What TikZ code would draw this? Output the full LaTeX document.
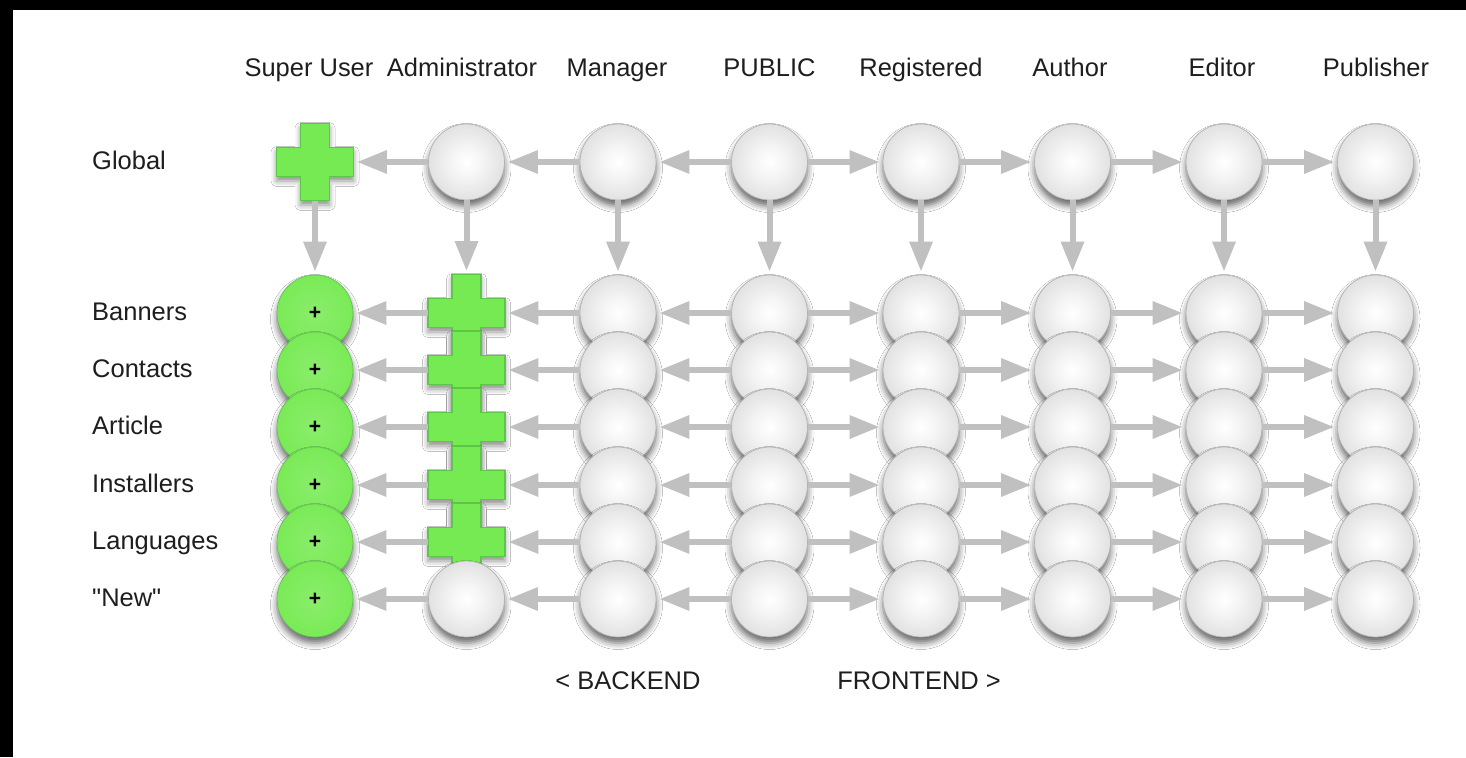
\documentclass[tikz,border=0pt]{standalone}
\usepackage{fontspec}
\setmainfont{Liberation Sans}
\usetikzlibrary{arrows.meta,shadows.blur}
\definecolor{arrowgray}{RGB}{192,192,192}
\definecolor{crossgreen}{RGB}{118,234,82}
\definecolor{crossedge}{RGB}{92,198,72}
\definecolor{ringgreen}{RGB}{124,222,112}
\definecolor{labelgray}{RGB}{30,30,30}
\pgfdeclareradialshading{sphere}{\pgfpoint{0bp}{0bp}}{color(0bp)=(white); color(10bp)=(white!96!black); color(42bp)=(black!20); color(50bp)=(black!32)}
\pgfdeclareradialshading{greenball}{\pgfpoint{0bp}{0bp}}{color(0bp)=(crossgreen!85!white); color(30bp)=(crossgreen); color(36bp)=(crossgreen!95!black); color(39bp)=(ringgreen); color(48bp)=(ringgreen); color(50bp)=(ringgreen!88!black)}
\tikzset{>/.tip={Triangle[length=0.6cm,width=0.44cm]}}

\begin{document}
\begin{tikzpicture}[x=0.02cm,y=-0.02cm,
  lbl/.style={font=\fontsize{14.5}{17}\selectfont, text=labelgray},
  ball/.style={circle, minimum size=1.52cm, inner sep=0pt, shading=sphere, draw=black!30, line width=0.4pt,
    blur shadow={shadow xshift=0pt, shadow yshift=-0.12cm, shadow blur radius=0.13cm, shadow opacity=60}},
  suball/.style={ball, shading=greenball, draw=ringgreen!85!black, font=\bfseries\large},
  crossnode/.style={rectangle, minimum size=1.54cm, inner sep=0pt},
  plusshape/.style={fill=crossgreen, draw=crossedge, line width=0.8pt,
    blur shadow={shadow xshift=0pt, shadow yshift=-0.09cm, shadow blur radius=0.11cm, shadow opacity=45}},
  link/.style={->, draw=arrowgray, line width=0.12cm, shorten >=0.06cm}]

% frame
\fill[black] (0,0) rectangle (1466,757);
\useasboundingbox (0,0) rectangle (1466,757);
\fill[white] (13,10) rectangle (1466,757);

% column heads
\node[lbl, anchor=base] (h-su)  at (309,77)    {Super User};
\node[lbl, anchor=base] (h-adm) at (462,77)    {Administrator};
\node[lbl, anchor=base] (h-man) at (617,77)    {Manager};
\node[lbl, anchor=base] (h-pub) at (769.5,77)  {PUBLIC};
\node[lbl, anchor=base] (h-reg) at (921,77)    {Registered};
\node[lbl, anchor=base] (h-aut) at (1070,77)   {Author};
\node[lbl, anchor=base] (h-edi) at (1222,77)   {Editor};
\node[lbl, anchor=base] (h-pbl) at (1376,77)   {Publisher};

% row labels
\foreach \r/\y/\t in {g/162/Global,1/313/Banners,2/370/Contacts,3/427/Article,4/485/Installers,5/542/Languages,6/599/\textquotedbl New\textquotedbl}
  \node[lbl, anchor=base west] (l-\r) at (86,\y+7) {\t};

% global row
\node[crossnode] (g-su) at (315,162) {};
\draw[plusshape] (g-su.center) ++(-14.5,-38.5) -- ++(29,0) -- ++(0,24) -- ++(24,0) -- ++(0,29) -- ++(-24,0)
  -- ++(0,24) -- ++(-29,0) -- ++(0,-24) -- ++(-24,0) -- ++(0,-29) -- ++(24,0) -- cycle;
\foreach \c/\x in {adm/466.5,man/618,pub/769.5,reg/921,aut/1072.5,edi/1224,pbl/1375.5}
  \node[ball] (g-\c) at (\x,162) {};

% component rows
\foreach \r/\y in {1/313,2/370,3/427,4/485,5/542,6/599} {
  \node[suball] (\r-su) at (315,\y) {+};
  \ifnum\r<6
    \node[crossnode] (\r-adm) at (466.5,\y) {};
    \draw[plusshape] (\r-adm.center) ++(-14.5,-38.5) -- ++(29,0) -- ++(0,24) -- ++(24,0) -- ++(0,29) -- ++(-24,0)
      -- ++(0,24) -- ++(-29,0) -- ++(0,-24) -- ++(-24,0) -- ++(0,-29) -- ++(24,0) -- cycle;
  \else
    \node[ball] (\r-adm) at (466.5,\y) {};
  \fi
  \foreach \c/\x in {man/618,pub/769.5,reg/921,aut/1072.5,edi/1224,pbl/1375.5}
    \node[ball] (\r-\c) at (\x,\y) {};
}

% inheritance
\foreach \r in {g,1,2,3,4,5,6} {
  \draw[link] (\r-adm) -- (\r-su);
  \draw[link] (\r-man) -- (\r-adm);
  \draw[link] (\r-pub) -- (\r-man);
  \draw[link] (\r-pub) -- (\r-reg);
  \draw[link] (\r-reg) -- (\r-aut);
  \draw[link] (\r-aut) -- (\r-edi);
  \draw[link] (\r-edi) -- (\r-pbl);
}
\foreach \c in {su,adm,man,pub,reg,aut,edi,pbl}
  \draw[link] (g-\c) -- (1-\c);

\node[lbl, anchor=base] (back)  at (628,689) {< BACKEND};
\node[lbl, anchor=base] (front) at (919,689) {FRONTEND >};
\end{tikzpicture}
\end{document}
